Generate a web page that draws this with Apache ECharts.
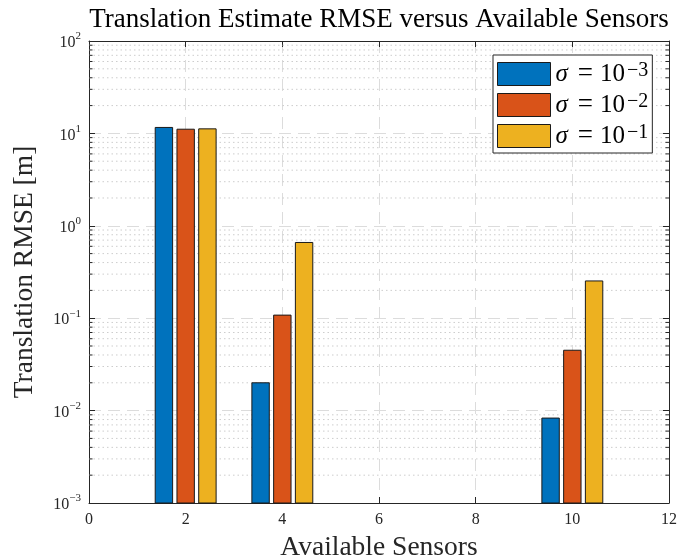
<!DOCTYPE html>
<html>
<head>
<meta charset="utf-8">
<script src="https://cdn.jsdelivr.net/npm/echarts@6/dist/echarts.min.js"></script>
<style>
html,body{margin:0;padding:0;background:#fff;}
#c{width:697px;height:557px;}
</style>
</head>
<body>
<div id="c"></div>
<script>
// ---- data ----
const sensors = [2, 4, 10];
const rmseSigma3 = [11.6, 0.0200, 0.0083];
const rmseSigma2 = [11.1, 0.108, 0.045];
const rmseSigma1 = [11.2, 0.66, 0.253];
const seriesNames = ['σ = 10⁻³', 'σ = 10⁻²', 'σ = 10⁻¹'];
const seriesExp = ['−3', '−2', '−1'];
const xTicks = [0, 2, 4, 6, 8, 10, 12];
const yMin = 1e-3, yMax = 1e2;

const FONT = '"Liberation Serif", "DejaVu Serif", serif';
const colors = ['#0072BD', '#D95319', '#EDB120'];
const groupOffset = 0.45, barW = 0.36;

// minor log ticks (axis decoration)
const minorVals = [];
for (let e = -3; e < 2; e++) for (let k = 2; k <= 9; k++) minorVals.push([k * Math.pow(10, e)]);

function barRender(offset) {
  return function (params, api) {
    const x = api.value(0) + offset, y = api.value(1);
    const top = api.coord([x, y]);
    const l = api.coord([x - barW / 2, yMin]);
    const r = api.coord([x + barW / 2, yMin]);
    return {
      type: 'rect',
      shape: { x: l[0], y: top[1], width: r[0] - l[0], height: l[1] - top[1] },
      style: { fill: api.visual('color'), stroke: '#1a1a1a', lineWidth: 1 }
    };
  };
}

function minorRender(params, api) {
  const v = api.value(0);
  const a = api.coord([0, v]), b = api.coord([12, v]);
  return {
    type: 'group',
    children: [
      { type: 'line', shape: { x1: a[0], y1: a[1], x2: b[0], y2: b[1] },
        style: { stroke: '#cdcdcd', lineWidth: 1, lineDash: [1.5, 3] }, silent: true },
      { type: 'line', shape: { x1: a[0], y1: a[1], x2: a[0] + 3.5, y2: a[1] },
        style: { stroke: '#262626', lineWidth: 1 }, silent: true },
      { type: 'line', shape: { x1: b[0], y1: b[1], x2: b[0] - 3.5, y2: b[1] },
        style: { stroke: '#262626', lineWidth: 1 }, silent: true }
    ]
  };
}

function mkData(vals) { return sensors.map((s, i) => [s, vals[i]]); }

const chart = echarts.init(document.getElementById('c'), null, { renderer: 'canvas' });
const axisLineStyle = { color: '#262626', width: 1 };
const yLabelRich = {
  b: { fontFamily: FONT, fontSize: 16, color: '#262626', lineHeight: 20, verticalAlign: 'bottom' },
  s: { fontFamily: FONT, fontSize: 11, color: '#262626', lineHeight: 11, verticalAlign: 'top' }
};
chart.setOption({
  animation: false,
  backgroundColor: '#fff',
  color: colors,
  title: {
    text: 'Translation Estimate RMSE versus Available Sensors',
    left: 379, top: 6, textAlign: 'center', padding: 0,
    textStyle: { fontFamily: FONT, fontSize: 27, fontWeight: 'normal', color: '#000' }
  },
  grid: { left: 89, right: 28, top: 41, bottom: 54, outerBoundsMode: 'none', containLabel: false },
  legend: {
    orient: 'vertical', left: 493, top: 55,
    padding: [5, 4, 4, 4], itemGap: 4, itemWidth: 53, itemHeight: 23,
    backgroundColor: '#fff', borderColor: '#262626', borderWidth: 1,
    itemStyle: { borderColor: '#1a1a1a', borderWidth: 1 },
    data: seriesNames.map(n => ({ name: n, icon: 'rect' })),
    formatter: function (name) {
      const i = seriesNames.indexOf(name);
      return '{g|σ}{e|=}{m|10}{s|' + seriesExp[i] + '}';
    },
    textStyle: {
      rich: {
        g: { fontFamily: FONT, fontStyle: 'italic', fontSize: 25, color: '#000', lineHeight: 26, verticalAlign: 'bottom' },
        e: { fontFamily: FONT, fontSize: 27, color: '#000', lineHeight: 26, verticalAlign: 'bottom', padding: [0, 7, 0, 10] },
        m: { fontFamily: FONT, fontSize: 25, color: '#000', lineHeight: 26, verticalAlign: 'bottom' },
        s: { fontFamily: FONT, fontSize: 20, color: '#000', lineHeight: 12, verticalAlign: 'top', padding: [0, 0, 0, 2] }
      }
    }
  },
  xAxis: [{
    type: 'value', min: 0, max: 12, interval: 2, position: 'bottom',
    name: 'Available Sensors', nameLocation: 'middle', nameGap: 31,
    nameTextStyle: { fontFamily: FONT, fontSize: 27.5, color: '#262626' },
    axisLine: { show: true, onZero: false, lineStyle: axisLineStyle },
    axisTick: { show: true, inside: true, length: 6, lineStyle: axisLineStyle },
    axisLabel: { fontFamily: FONT, fontSize: 16, color: '#262626', margin: 9 },
    splitLine: { show: true, lineStyle: { color: '#dcdcdc', type: [12, 7], width: 1 } }
  }, {
    type: 'value', min: 0, max: 12, interval: 2, position: 'top',
    axisLine: { show: true, onZero: false, lineStyle: axisLineStyle },
    axisTick: { show: true, inside: true, length: 6, lineStyle: axisLineStyle },
    axisLabel: { show: false }, splitLine: { show: false }
  }],
  yAxis: [{
    type: 'log', logBase: 10, min: yMin, max: yMax, position: 'left',
    name: 'Translation RMSE [m]', nameLocation: 'middle', nameGap: 50,
    nameTextStyle: { fontFamily: FONT, fontSize: 27.5, color: '#262626' },
    axisLine: { show: true, onZero: false, lineStyle: axisLineStyle },
    axisTick: { show: true, inside: true, length: 6, lineStyle: axisLineStyle },
    axisLabel: {
      margin: 8,
      formatter: function (v) {
        const e = Math.round(Math.log10(v));
        return '{b|10}{s|' + (e < 0 ? '−' + (-e) : e) + '}';
      },
      rich: yLabelRich
    },
    splitLine: { show: true, lineStyle: { color: '#dcdcdc', type: [12, 7], width: 1 } }
  }, {
    type: 'log', logBase: 10, min: yMin, max: yMax, position: 'right',
    axisLine: { show: true, onZero: false, lineStyle: axisLineStyle },
    axisTick: { show: true, inside: true, length: 6, lineStyle: axisLineStyle },
    axisLabel: { show: false }, splitLine: { show: false }
  }],
  series: [
    { type: 'custom', name: 'minor', data: minorVals, renderItem: minorRender, silent: true, z: 1,
      encode: { y: 0 }, itemStyle: { color: '#ccc' } },
    { type: 'custom', name: seriesNames[0], data: mkData(rmseSigma3), renderItem: barRender(-groupOffset),
      itemStyle: { color: colors[0] }, encode: { x: 0, y: 1 }, z: 3 },
    { type: 'custom', name: seriesNames[1], data: mkData(rmseSigma2), renderItem: barRender(0),
      itemStyle: { color: colors[1] }, encode: { x: 0, y: 1 }, z: 3 },
    { type: 'custom', name: seriesNames[2], data: mkData(rmseSigma1), renderItem: barRender(groupOffset),
      itemStyle: { color: colors[2] }, encode: { x: 0, y: 1 }, z: 3 }
  ]
});
</script>
</body>
</html>
